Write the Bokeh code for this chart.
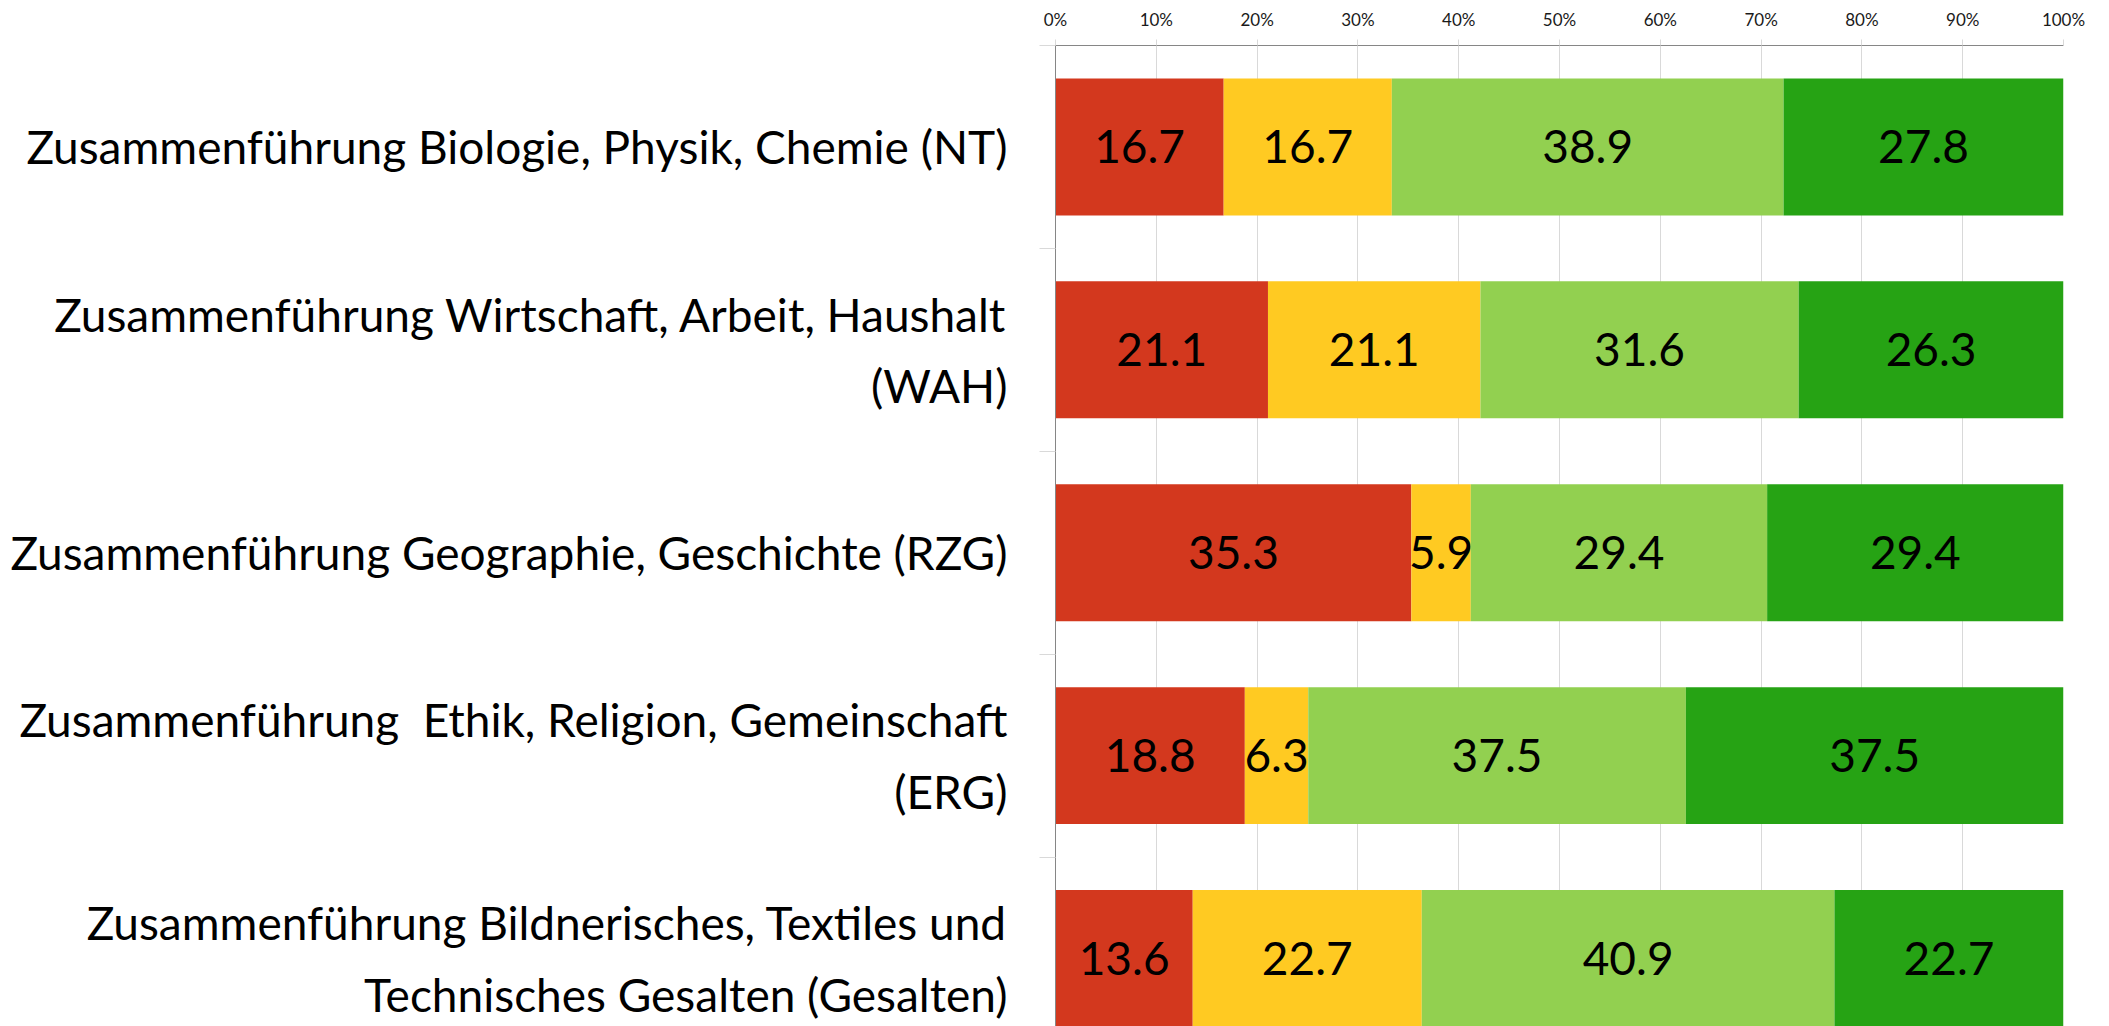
from bokeh.plotting import figure
from bokeh.models import Range1d, FixedTicker, PrintfTickFormatter, ColumnDataSource
from bokeh.core.properties import value
from bokeh.embed import file_html
from bokeh.resources import INLINE

categories = [
    "Zusammenführung Biologie, Physik, Chemie (NT)",
    "Zusammenführung Wirtschaft, Arbeit, Haushalt\n(WAH)",
    "Zusammenführung Geographie, Geschichte (RZG)",
    "Zusammenführung\u00a0 Ethik, Religion, Gemeinschaft\n(ERG)",
    "Zusammenführung Bildnerisches, Textiles und\nTechnisches Gesalten (Gesalten)",
]
red_vals = [16.7, 21.1, 35.3, 18.8, 13.6]
yellow_vals = [16.7, 21.1, 5.9, 6.3, 22.7]
lightgreen_vals = [38.9, 31.6, 29.4, 37.5, 40.9]
green_vals = [27.8, 26.3, 29.4, 37.5, 22.7]
x_ticks = [0, 10, 20, 30, 40, 50, 60, 70, 80, 90, 100]

series = [red_vals, yellow_vals, lightgreen_vals, green_vals]
colors = ["#D3381E", "#FFCA22", "#92D050", "#26A314"]

FONT = "Lato"

n = len(categories)
ys = [i + 0.5 for i in range(n)]
bounds = list(range(n + 1))

p = figure(width=2100, height=1026, output_backend="svg", toolbar_location=None,
           x_range=Range1d(0, 100), y_range=Range1d(4.835, 0),
           x_axis_location="above",
           min_border_left=1055, min_border_right=37, min_border_top=45, min_border_bottom=0)
p.outline_line_color = None
p.background_fill_color = "white"
p.border_fill_color = "white"

# x axis (top)
xa = p.xaxis[0]
xa.ticker = FixedTicker(ticks=x_ticks)
xa.formatter = PrintfTickFormatter(format="%d%%")
xa.axis_line_color = "#868686"
xa.major_tick_line_color = "#D9D9D9"
xa.major_tick_out = 6
xa.major_tick_in = 0
xa.minor_tick_line_color = None
xa.minor_tick_out = 0
xa.major_label_text_font = FONT
xa.major_label_text_font_size = "17px"
xa.major_label_text_color = "#1a1a1a"
xa.major_label_standoff = 10

# y axis (left)
ya = p.yaxis[0]
ya.ticker = FixedTicker(ticks=ys, minor_ticks=bounds)
ya.major_label_overrides = {y: c for y, c in zip(ys, categories)}
ya.axis_line_color = "#868686"
ya.major_tick_line_color = None
ya.major_tick_out = 0
ya.major_tick_in = 0
ya.minor_tick_line_color = "#D9D9D9"
ya.minor_tick_out = 16
ya.minor_tick_in = 0
ya.major_label_standoff = 32
ya.major_label_text_font = FONT
ya.major_label_text_font_size = "46px"
ya.major_label_text_color = "black"
ya.major_label_text_line_height = 1.3

p.xgrid.ticker = FixedTicker(ticks=x_ticks)
p.xgrid.grid_line_color = "#D9D9D9"
p.ygrid.grid_line_color = None

# normalise each row to 100 % (100 % stacked bar)
totals = [sum(s[i] for s in series) for i in range(n)]
left = [0.0] * n
for vals, col in zip(series, colors):
    widths = [vals[i] / totals[i] * 100 for i in range(n)]
    right = [left[i] + widths[i] for i in range(n)]
    src = ColumnDataSource(dict(y=ys, left=left, right=right,
                                mid=[(left[i] + right[i]) / 2 for i in range(n)],
                                lab=["%.1f" % v for v in vals]))
    p.hbar(y="y", left="left", right="right", height=0.675, source=src,
           fill_color=col, line_color=None)
    p.text(x="mid", y="y", text="lab", source=src, text_align="center",
           text_baseline="middle", text_font=value(FONT), text_font_size="46px",
           text_color="black")
    left = right

open("out.html", "w").write(file_html(p, INLINE))
